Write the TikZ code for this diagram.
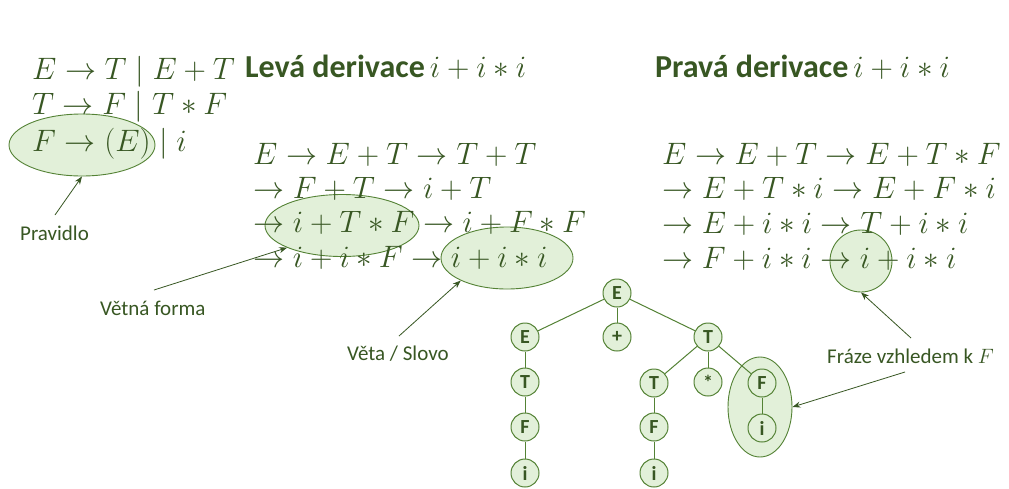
\documentclass[tikz,border=0pt]{standalone}
\usepackage{fontspec}
\setmainfont{Carlito}
\usetikzlibrary{shapes.geometric,arrows.meta}
\definecolor{tgreen}{HTML}{385723}
\definecolor{fgreen}{HTML}{E2F0D9}
\definecolor{lgreen}{HTML}{548235}
\newcommand{\mbig}[1]{\scalebox{1.246}{\fontsize{24.88}{30}\selectfont$#1$}}
\tikzset{
  mathline/.style={anchor=base west,inner sep=0pt,text=tgreen},
  title/.style={anchor=base west,inner sep=0pt,text=tgreen},
  lbl/.style={anchor=base west,inner sep=0pt,text=tgreen,font=\fontsize{21}{25}\selectfont},
  hl/.style={ellipse,draw=lgreen,fill=fgreen,line width=0.9pt,inner sep=0pt},
  tn/.style={circle,draw=lgreen,fill=fgreen,line width=1pt,minimum size=28pt,inner sep=0pt,text=tgreen,font=\fontsize{20}{24}\selectfont\bfseries},
  tedge/.style={draw=lgreen,line width=1pt},
  arr/.style={draw=tgreen,line width=0.8pt,-{Stealth[length=8pt,width=6pt]}}
}
\begin{document}
\begin{tikzpicture}[x=1pt,y=-1pt]
\fill[white] (0,0) rectangle (1009,488);
\useasboundingbox (0,0) rectangle (1009,488);
% highlight ellipses
\node[hl,minimum width=146pt,minimum height=62pt] (el1) at (82,145) {};
\node[hl,minimum width=154pt,minimum height=62pt] (el2) at (342,225.5) {};
\node[hl,minimum width=132pt,minimum height=62pt] (el3) at (507,258) {};
\node[hl,minimum width=62pt,minimum height=62pt] (el5) at (861,261) {};
\node[hl,minimum width=64pt,minimum height=100pt] (el4) at (760,407) {};
% grammar
\node[mathline] (g1) at (32,79) {\mbig{E\to T\mid E+T}};
\node[mathline] (g2) at (32,114) {\mbig{T\to F\mid T\ast F}};
\node[mathline] (g3) at (32,151) {\mbig{F\to (E)\mid i}};
% titles
\node[title] (t1) at (245,77) {{\fontsize{32}{38}\selectfont\bfseries Levá derivace}\hspace{5pt}\mbig{i+i\ast i}};
\node[title] (t2) at (655,77) {{\fontsize{32}{38}\selectfont\bfseries Pravá derivace}\hspace{5pt}\mbig{i+i\ast i}};
% left derivation
\node[mathline] (l1) at (253,164) {\mbig{E\to E+T\to T+T}};
\node[mathline] (l2) at (253,198) {\mbig{\to F+T\to i+T}};
\node[mathline] (l3) at (253,232) {\mbig{\to i+T\ast F\to i+F\ast F}};
\node[mathline] (l4) at (253,267) {\mbig{\to i+i\ast F\to i+i\ast i}};
% right derivation
\node[mathline] (r1) at (662,164) {\mbig{E\to E+T\to E+T\ast F}};
\node[mathline] (r2) at (662,198) {\mbig{\to E+T\ast i\to E+F\ast i}};
\node[mathline] (r3) at (662,233) {\mbig{\to E+i\ast i\to T+i\ast i}};
\node[mathline] (r4) at (662,268) {\mbig{\to F+i\ast i\to i+i\ast i}};
% labels
\node[lbl] (lp) at (20,240) {Pravidlo};
\node[lbl] (lv) at (100,315) {Větná forma};
\node[lbl] (ls) at (347,360) {Věta / Slovo};
\node[lbl] (lf) at (827,363) {Fráze vzhledem k $F$};
\coordinate (cp) at (55,215);
\coordinate (cv) at (154,290);
\coordinate (cs) at (399,336);
\coordinate (cf) at (911,338);
\coordinate (cf2) at (905,372);
\draw[arr] (cp) -- (el1.south);
\draw[arr] (cv) -- (el2.202);
\draw[arr] (cs) -- (el3.206);
\draw[arr] (cf) -- (el5.south);
\draw[arr] (cf2) -- (el4.east);
% tree
\node[tn] (n0) at (617,293) {E};
\node[tn] (n1) at (525,337) {E};
\node[tn] (n2) at (617,337) {+};
\node[tn] (n3) at (708,337) {T};
\node[tn] (n4) at (525,382) {T};
\node[tn] (n5) at (525,427) {F};
\node[tn] (n6) at (525,473) {i};
\node[tn] (n7) at (654,383) {T};
\node[tn] (n8) at (708,382) {*};
\node[tn] (n9) at (762,383) {F};
\node[tn] (n10) at (654,427) {F};
\node[tn] (n11) at (654,473) {i};
\node[tn] (n12) at (762,428) {i};
\draw[tedge] (n0) -- (n1);
\draw[tedge] (n0) -- (n2);
\draw[tedge] (n0) -- (n3);
\draw[tedge] (n1) -- (n4);
\draw[tedge] (n4) -- (n5);
\draw[tedge] (n5) -- (n6);
\draw[tedge] (n3) -- (n7);
\draw[tedge] (n3) -- (n8);
\draw[tedge] (n3) -- (n9);
\draw[tedge] (n7) -- (n10);
\draw[tedge] (n10) -- (n11);
\draw[tedge] (n9) -- (n12);
\end{tikzpicture}
\end{document}
